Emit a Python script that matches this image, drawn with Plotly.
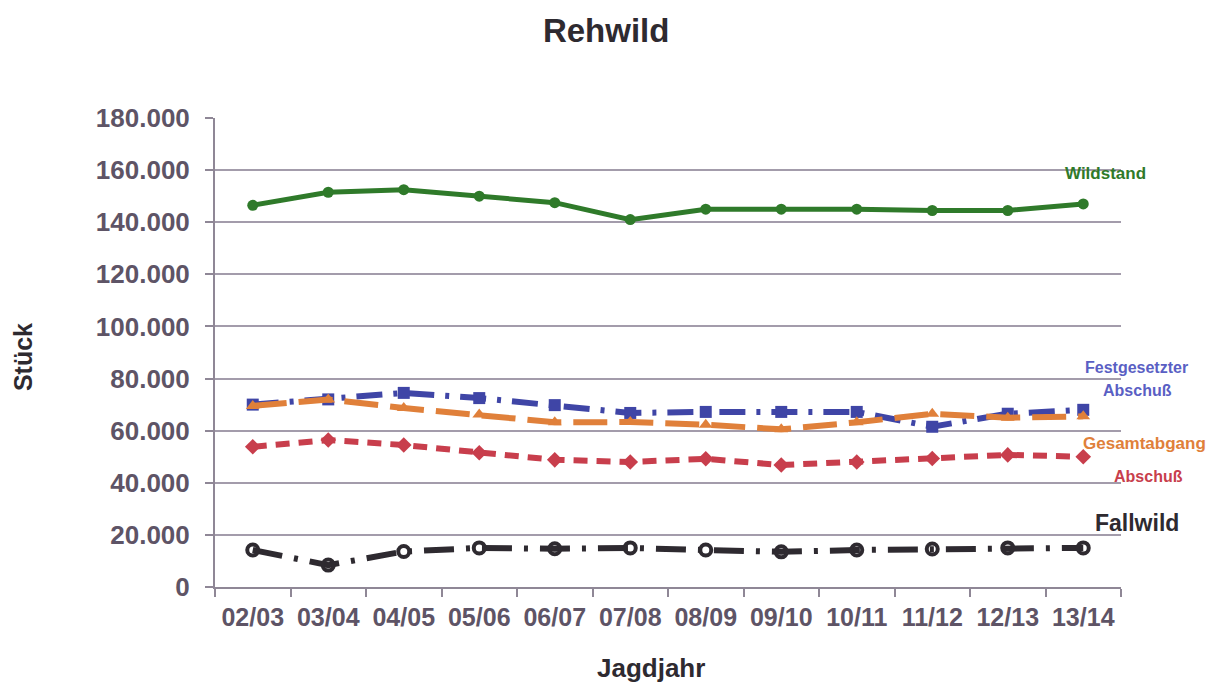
import plotly.graph_objects as go

# Jagdjahre (hunting years)
jahre = ["02/03", "03/04", "04/05", "05/06", "06/07", "07/08",
         "08/09", "09/10", "10/11", "11/12", "12/13", "13/14"]

wildstand = [146500, 151500, 152500, 150000, 147500, 141000,
             145000, 145000, 145000, 144500, 144500, 147000]
festgesetzter_abschuss = [70000, 72000, 74500, 72500, 69800, 66800,
                          67200, 67200, 67200, 61500, 66500, 68000]
gesamtabgang = [69500, 72000, 68700, 66200, 63200, 63300,
                62300, 60500, 63200, 66500, 65000, 65500]
abschuss = [53800, 56400, 54500, 51500, 48800, 48000,
            49200, 46800, 48000, 49300, 50700, 50000]
fallwild = [14200, 8400, 13600, 15000, 14700, 15000,
            14200, 13500, 14200, 14600, 15000, 15000]

y_ticks = [0, 20000, 40000, 60000, 80000, 100000, 120000, 140000, 160000, 180000]

GREEN = "#2f7a2a"
BLUE = "#3f45a6"
ORANGE = "#e0803a"
RED = "#c83e4c"
BLACK = "#2e2a30"
AXIS = "#8f8796"
TEXT = "#5e5466"
FONT = "Liberation Sans, Arial, sans-serif"

fig = go.Figure()

fig.add_trace(go.Scatter(
    x=jahre, y=wildstand, name="Wildstand", mode="lines+markers",
    line=dict(color=GREEN, width=5),
    marker=dict(symbol="circle", size=11, color=GREEN),
))
fig.add_trace(go.Scatter(
    x=jahre, y=festgesetzter_abschuss, name="Festgesetzter Abschuß",
    mode="lines+markers",
    line=dict(color=BLUE, width=6, dash="26px,11px,4px,11px"),
    marker=dict(symbol="square", size=12, color=BLUE),
))
fig.add_trace(go.Scatter(
    x=jahre, y=gesamtabgang, name="Gesamtabgang", mode="lines+markers",
    line=dict(color=ORANGE, width=6, dash="34px,12px"),
    marker=dict(symbol="triangle-up", size=12, color=ORANGE),
))
fig.add_trace(go.Scatter(
    x=jahre, y=abschuss, name="Abschuß", mode="lines+markers",
    line=dict(color=RED, width=6, dash="14px,9px"),
    marker=dict(symbol="diamond", size=12, color=RED),
))
fig.add_trace(go.Scatter(
    x=jahre, y=fallwild, name="Fallwild", mode="lines+markers",
    line=dict(color=BLACK, width=6, dash="30px,12px,4px,12px"),
    marker=dict(symbol="circle-open", size=11, color=BLACK,
                line=dict(width=4, color=BLACK)),
))

# Series labels next to the line ends
labels = [
    ("Wildstand", 0.983, 0.881, GREEN, 17),
    ("Festgesetzter", 1.017, 0.467, "#5a5fc4", 16),
    ("Abschuß", 1.018, 0.420, "#5a5fc4", 16),
    ("Gesamtabgang", 1.026, 0.307, ORANGE, 17),
    ("Abschuß", 1.030, 0.235, RED, 16),
    ("Fallwild", 1.018, 0.136, BLACK, 23),
]
annotations = [
    dict(text=t, x=x, y=y, xref="paper", yref="paper", showarrow=False,
         xanchor="center", yanchor="middle",
         font=dict(family=FONT, size=s, color=c, weight="bold"))
    for t, x, y, c, s in labels
]

# Axis titles
annotations.append(dict(
    text="Stück", x=-0.212, y=0.49, xref="paper", yref="paper",
    showarrow=False, textangle=-90, xanchor="center", yanchor="middle",
    font=dict(family=FONT, size=25, color=BLACK, weight="bold")))
annotations.append(dict(
    text="Jagdjahr", x=0.481, y=-0.173, xref="paper", yref="paper",
    showarrow=False, xanchor="center", yanchor="middle",
    font=dict(family=FONT, size=26, color=BLACK, weight="bold")))

fig.update_layout(
    width=1210, height=682,
    margin=dict(l=215, r=89, t=118, b=95),
    paper_bgcolor="white", plot_bgcolor="white",
    separators=",.",
    showlegend=False,
    title=dict(text="Rehwild", x=0.501, xanchor="center",
               y=0.955, yanchor="middle",
               font=dict(family=FONT, size=33, color=BLACK, weight="bold")),
    annotations=annotations,
    font=dict(family=FONT, color=TEXT),
)

fig.update_xaxes(
    type="category", categoryorder="array", categoryarray=jahre,
    range=[-0.5, len(jahre) - 0.5],
    showline=True, linecolor=AXIS, linewidth=2,
    ticks="outside", tickson="boundaries", ticklen=8, tickcolor=AXIS,
    tickwidth=2, showgrid=False, ticklabelstandoff=7, tickangle=0,
    tickfont=dict(size=25, color=TEXT, weight="bold"),
)
fig.update_yaxes(
    range=[0, 180000], tickvals=y_ticks, tickformat=",d",
    showline=True, linecolor=AXIS, linewidth=2,
    ticks="outside", ticklen=8, tickcolor=AXIS, tickwidth=2,
    showgrid=True, gridcolor="#a39cab", gridwidth=2,
    zeroline=False, ticklabelstandoff=10,
    tickfont=dict(size=26, color=TEXT, weight="bold"),
)

fig.write_html("out.html")
